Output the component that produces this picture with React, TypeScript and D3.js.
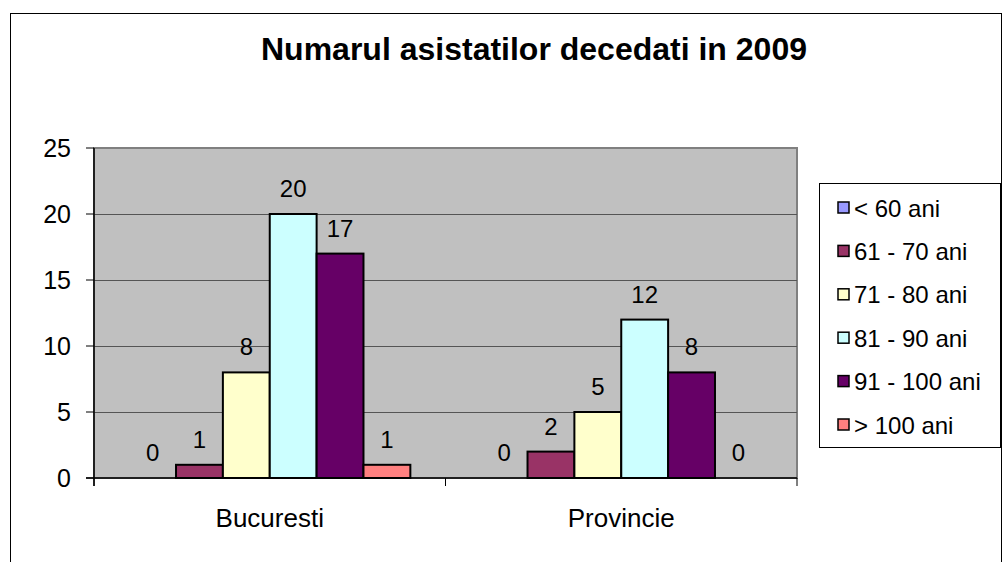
import React from "react";
import * as d3 from "d3";

const categories = ["Bucuresti", "Provincie"];
const seriesNames = ["< 60 ani", "61 - 70 ani", "71 - 80 ani", "81 - 90 ani", "91 - 100 ani", "> 100 ani"];
const seriesColors = ["#9999FF", "#993366", "#FFFFCC", "#CCFFFF", "#660066", "#FF8080"];
// values per series: [Bucuresti, Provincie]
const seriesValues = [
  [0, 0],
  [1, 2],
  [8, 5],
  [20, 12],
  [17, 8],
  [1, 0],
];
const yTicks = [0, 5, 10, 15, 20, 25];

const W = 1002;
const H = 562;
const plot = { left: 94, top: 148, right: 797, bottom: 478 };
const font = "Arial, 'Liberation Sans', sans-serif";

export default function App() {
  const x = d3
    .scaleBand<string>()
    .domain(categories)
    .range([plot.left, plot.right]);

  // gap width 150% of a bar, as Excel does
  const barW = x.bandwidth() / (seriesNames.length + 1.5);
  const inner = d3
    .scaleBand<number>()
    .domain(d3.range(seriesNames.length))
    .range([barW * 0.75, barW * 0.75 + barW * seriesNames.length]);

  const y = d3.scaleLinear().domain([0, 25]).range([plot.bottom, plot.top]);

  const legend = { x: 819, y: 183, w: 181, h: 264 };
  const legendY = d3
    .scalePoint<string>()
    .domain(seriesNames)
    .range([legend.y + 24, legend.y + legend.h - 23]);

  return (
    <svg
      width={W}
      height={H}
      style={{ position: "absolute", left: 0, top: 0, background: "#fff" }}
      fontFamily={font}
    >
      <rect x={10.5} y={13.5} width={991} height={600} fill="#fff" stroke="#000" />

      <text x={534} y={60} textAnchor="middle" fontSize={32} fontWeight="bold">
        Numarul asistatilor decedati in 2009
      </text>

      {/* plot area */}
      <rect
        x={plot.left}
        y={plot.top}
        width={plot.right - plot.left}
        height={plot.bottom - plot.top}
        fill="#C0C0C0"
        stroke="#808080"
        strokeWidth={2}
      />
      {yTicks.slice(1, -1).map((t) => (
        <line
          key={"g" + t}
          x1={plot.left}
          x2={plot.right}
          y1={Math.round(y(t)) + 0.5}
          y2={Math.round(y(t)) + 0.5}
          stroke="#555"
        />
      ))}

      {/* bars */}
      {categories.map((c, ci) =>
        seriesNames.map((s, si) => {
          const v = seriesValues[si][ci];
          const bx = (x(c) ?? 0) + (inner(si) ?? 0);
          return (
            <g key={c + s}>
              {v > 0 && (
                <rect
                  x={bx}
                  y={y(v)}
                  width={barW}
                  height={y(0) - y(v)}
                  fill={seriesColors[si]}
                  stroke="#000"
                  strokeWidth={2}
                />
              )}
              <text
                x={bx + barW / 2}
                y={y(v) - 17}
                textAnchor="middle"
                fontSize={24}
              >
                {v}
              </text>
            </g>
          );
        })
      )}

      {/* axes */}
      <line x1={plot.left} x2={plot.left} y1={plot.top} y2={plot.bottom + 8} stroke="#000" strokeWidth={1.5} />
      <line x1={plot.left - 8} x2={plot.right} y1={plot.bottom} y2={plot.bottom} stroke="#000" strokeWidth={1.5} />
      {yTicks.map((t) => (
        <g key={"t" + t}>
          <line x1={plot.left - 8} x2={plot.left} y1={y(t)} y2={y(t)} stroke="#000" />
          <text x={71} y={y(t)} textAnchor="end" dominantBaseline="central" fontSize={25}>
            {t}
          </text>
        </g>
      ))}
      {[...categories.map((c) => x(c) ?? 0), plot.right].map((px, i) => (
        <line key={"xt" + i} x1={px} x2={px} y1={plot.bottom} y2={plot.bottom + 8} stroke="#000" />
      ))}
      {categories.map((c) => (
        <text
          key={"cl" + c}
          x={(x(c) ?? 0) + x.bandwidth() / 2}
          y={527}
          textAnchor="middle"
          fontSize={26}
        >
          {c}
        </text>
      ))}

      {/* legend */}
      <rect x={legend.x + 0.5} y={legend.y + 0.5} width={legend.w} height={legend.h} fill="#fff" stroke="#000" />
      {seriesNames.map((s, i) => {
        const ly = legendY(s) ?? 0;
        return (
          <g key={"l" + s}>
            <rect x={838} y={ly - 5} width={11} height={11} fill={seriesColors[i]} stroke="#000" strokeWidth={1.5} />
            <text x={854} y={ly + 1} dominantBaseline="central" fontSize={24}>
              {s}
            </text>
          </g>
        );
      })}
    </svg>
  );
}
